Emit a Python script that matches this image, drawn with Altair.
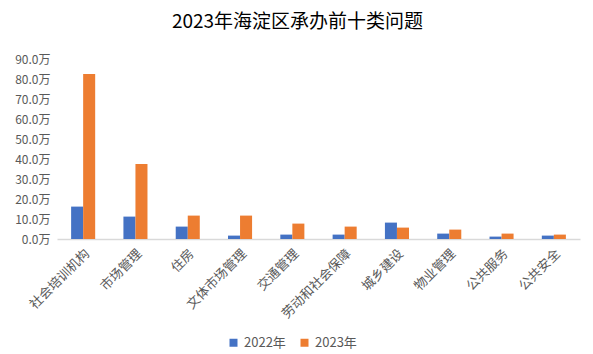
import altair as alt
import pandas as pd

categories = ["社会培训机构", "市场管理", "住房", "文体市场管理", "交通管理",
              "劳动和社会保障", "城乡建设", "物业管理", "公共服务", "公共安全"]
values_2022 = [16.2, 11.2, 6.2, 1.7, 2.2, 2.2, 8.2, 2.7, 1.2, 1.7]
values_2023 = [82.5, 37.5, 11.7, 11.7, 7.7, 6.2, 5.7, 4.7, 2.7, 2.2]
years = ["2022年", "2023年"]
y_ticks = [0, 10, 20, 30, 40, 50, 60, 70, 80, 90]

rows = []
for c, a, b in zip(categories, values_2022, values_2023):
    rows.append({"cat": c, "year": years[0], "v": a})
    rows.append({"cat": c, "year": years[1], "v": b})
df = pd.DataFrame(rows)

FONT = "Noto Sans CJK SC"

chart = alt.Chart(df).mark_bar().encode(
    x=alt.X("cat:N", sort=categories, title=None,
            scale=alt.Scale(paddingInner=0.54, paddingOuter=0.27),
            axis=alt.Axis(labelAngle=-45, labelFontSize=13, labelColor="#595959",
                          labelFont=FONT, ticks=False, domainColor="#d9d9d9",
                          domainWidth=1.5, labelPadding=8)),
    xOffset=alt.XOffset("year:N", sort=years),
    y=alt.Y("v:Q", title=None,
            scale=alt.Scale(domain=[0, 90], nice=False),
            axis=alt.Axis(values=y_ticks, grid=False, domain=False, ticks=False,
                          labelExpr="format(datum.value, '.1f') + '万'",
                          labelFontSize=12, labelColor="#595959", labelFont=FONT,
                          labelPadding=7)),
    color=alt.Color("year:N", sort=years,
                    scale=alt.Scale(domain=years, range=["#4472C4", "#ED7D31"]),
                    legend=alt.Legend(title=None, orient="none", direction="horizontal",
                                      legendX=170, legendY=277, symbolType="square",
                                      symbolSize=64, labelFontSize=13,
                                      labelColor="#595959", labelFont=FONT,
                                      columnPadding=12, symbolStrokeWidth=0)),
).properties(
    width=523, height=180,
    title=alt.TitleParams("2023年海淀区承办前十类问题", fontSize=19, font=FONT,
                          fontWeight="normal", color="#000000", dx=-21, offset=21),
    autosize=alt.AutoSizeParams(type="none"),
    padding={"left": 57, "top": 59, "right": 13, "bottom": 115},
).configure_view(stroke=None)

chart.save("out.html", embed_options={"renderer": "svg", "actions": False})
